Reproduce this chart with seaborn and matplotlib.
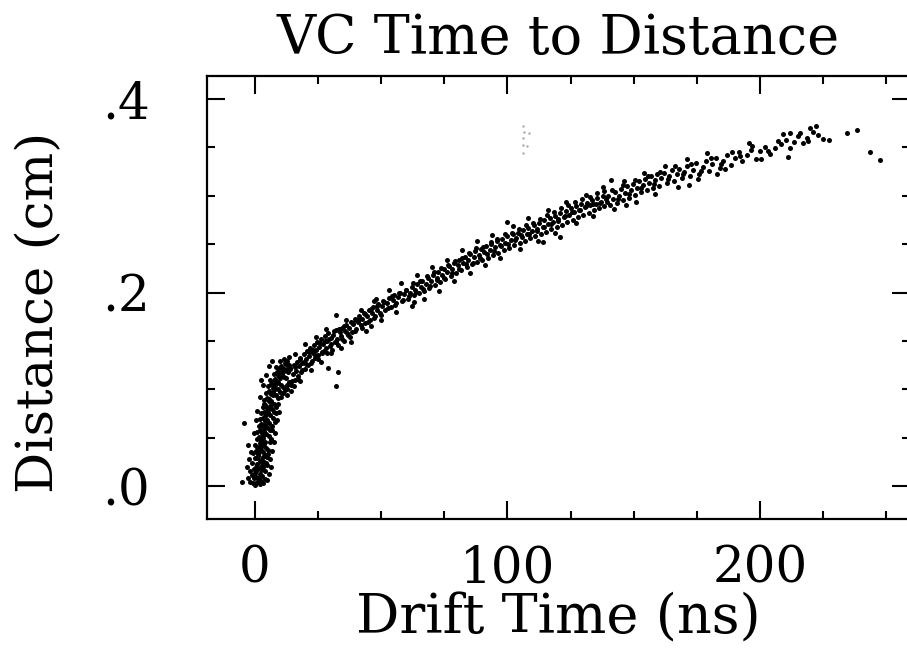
import matplotlib
matplotlib.use("Agg")
import matplotlib.pyplot as plt
import numpy as np
import pandas as pd
import seaborn as sns
from matplotlib.ticker import MultipleLocator

# ---------------- data ----------------
title = "VC Time to Distance"
x_label = "Drift Time (ns)"
y_label = "Distance (cm)"
x_ticks = [0, 100, 200]
x_tick_labels = ["0", "100", "200"]
y_ticks = [0.0, 0.2, 0.4]
y_tick_labels = [".0", ".2", ".4"]

# early region (t < 14 ns)
early_t = [-0.6, 0.2, 1.0, 1.8, 2.5, 3.3, 0.6, 1.5, 2.9, -1.2, 3.8, 0.0, 2.1,
           -1.8, -0.4, 0.5, 1.4, 2.3, 3.1, 4.0, -1.0, 0.9, 1.9, 2.8, 3.6, -2.4, 0.1, 1.2, 2.5, 3.3, 4.3,
           -0.8, 0.4, 1.3, 2.2, 3.0, 3.9, 4.8, 0.0, 1.0, 1.9, 2.7, 3.5, 4.4, 5.2, 0.8, 2.4, 3.2, 4.1, 1.6,
           0.9, 1.9, 2.8, 3.6, 4.5, 5.4, 6.2, 1.4, 2.3, 3.2, 4.1, 5.0, 5.8, 2.0, 3.0, 3.9, 4.8, 5.7, 6.6,
           2.4, 3.4, 4.3, 5.2, 6.1, 7.0, 3.0, 4.0, 4.9, 5.8, 6.7, 7.6, 3.7, 4.6, 5.6, 6.5, 7.4, 8.3,
           4.4, 5.4, 6.4, 7.3, 8.2, 9.1, 5.2, 6.2, 7.2, 8.1, 9.0, 10.0, 6.0, 7.1, 8.1, 9.2, 10.3, 11.2,
           7.5, 8.6, 9.6, 10.6, 11.6, 8.4, 9.5, 10.5, 11.5,
           7.8, 8.5, 9.3, 10.2, 11.0, 12.0, 6.9, 5.9, 4.9, 5.3, 10.1, 11.3, 12.4, 13.5,
           0.5, 1.6, 2.6, 3.5, 4.4, 5.3, 6.2, 7.1, 8.0, 8.9, 9.8, 10.7, 11.6, 12.5, 13.4,
           1.1, 2.0, 3.0, 3.9, 4.7, 5.6, 6.5, 7.4, 8.3, 9.2, 10.1, 11.0, 11.9, 12.8,
           -0.3, 0.7, 1.7, 2.6, 3.6,
           -2.8, -2.0, -3.2, -1.5, -2.6, -0.5, 4.8, 5.6, 6.3, 5.9, 6.8, 7.4, 7.9, 8.8, 9.7,
           0.3, 1.0, 2.0, 3.1, 4.2, 5.5, 6.8, 12.8, 14.2, 15.6]
early_d = [0.003, 0.001, 0.004, 0.002, 0.005, 0.003, 0.009, 0.008, 0.010, 0.011, 0.007, 0.013, 0.012,
           0.016, 0.018, 0.015, 0.019, 0.017, 0.020, 0.015, 0.024, 0.023, 0.026, 0.022, 0.025, 0.028, 0.029, 0.031, 0.027, 0.030, 0.024,
           0.034, 0.036, 0.033, 0.037, 0.035, 0.032, 0.030, 0.042, 0.040, 0.044, 0.041, 0.043, 0.039, 0.037, 0.049, 0.047, 0.050, 0.046, 0.051,
           0.056, 0.058, 0.055, 0.057, 0.054, 0.052, 0.049, 0.062, 0.064, 0.061, 0.063, 0.060, 0.058, 0.069, 0.070, 0.067, 0.068, 0.065, 0.062,
           0.075, 0.077, 0.074, 0.076, 0.073, 0.070, 0.082, 0.084, 0.081, 0.083, 0.080, 0.077, 0.089, 0.091, 0.088, 0.087, 0.085, 0.082,
           0.096, 0.098, 0.095, 0.097, 0.094, 0.091, 0.103, 0.105, 0.101, 0.104, 0.100, 0.097, 0.110, 0.108, 0.111, 0.107, 0.104, 0.102,
           0.116, 0.118, 0.114, 0.117, 0.113, 0.123, 0.121, 0.124, 0.120,
           0.066, 0.075, 0.085, 0.092, 0.096, 0.099, 0.058, 0.045, 0.022, 0.033, 0.129, 0.131, 0.126, 0.133,
           0.020, 0.035, 0.045, 0.060, 0.068, 0.080, 0.088, 0.094, 0.100, 0.106, 0.112, 0.115, 0.119, 0.121, 0.125,
           0.008, 0.050, 0.053, 0.072, 0.078, 0.090, 0.096, 0.101, 0.108, 0.115, 0.118, 0.122, 0.127, 0.129,
           0.008, 0.029, 0.040, 0.063, 0.085,
           0.008, 0.004, 0.020, 0.035, 0.042, 0.055, 0.006, 0.012, 0.020, 0.028, 0.036, 0.046, 0.055, 0.068, 0.077,
           0.068, 0.078, 0.092, 0.104, 0.115, 0.124, 0.129, 0.094, 0.098, 0.103]

# middle region (12 - 60 ns)
mid_t = [12.3, 12.8, 13.1, 13.6, 14.0, 14.4, 14.9, 15.3, 15.7, 16.2, 16.6, 17.0, 17.5, 17.9, 18.4, 18.8,
         19.3, 19.7, 20.2, 20.6, 21.0, 21.5, 21.9, 22.4, 22.8, 23.3, 23.7, 24.2, 24.6, 25.1, 25.5, 26.0,
         26.4, 26.9, 27.3, 27.8, 28.2, 28.7, 29.1, 29.6, 30.0, 30.5, 31.0, 31.5, 32.0, 32.5, 33.0, 33.5,
         34.0, 34.6, 35.1, 35.7, 36.2, 36.8, 37.3, 37.9, 38.4, 39.0, 39.6, 40.1, 40.7, 41.3, 41.9, 42.5,
         43.1, 43.7, 44.3, 45.0, 45.6, 46.2, 46.9, 47.5, 48.2, 48.9, 49.5, 50.2, 50.9, 51.6, 52.3, 53.0,
         53.8, 54.5, 55.2, 56.0, 56.8, 57.6, 58.4, 59.2,
         12.6, 13.9, 14.7, 15.9, 16.9, 17.7, 18.6, 19.5, 20.4, 21.3, 22.1, 23.0, 23.9, 24.8, 25.8, 26.7,
         27.6, 28.5, 29.4, 30.3, 31.2, 32.2, 33.2, 34.3, 35.4, 36.5, 37.6, 38.7, 39.8, 41.0, 42.2, 43.4,
         44.6, 45.8, 47.1, 48.5, 49.8, 51.2, 52.6, 54.1, 55.6, 57.1, 58.7, 59.8,
         16.0, 18.0, 20.0, 22.0, 24.0, 26.0, 28.0, 30.0, 34.0, 36.0, 38.0, 42.0, 44.0, 47.0, 50.0, 53.0,
         56.0, 58.0]
mid_d = [0.112, 0.100, 0.118, 0.108, 0.121, 0.104, 0.116, 0.125, 0.110, 0.119, 0.128, 0.114, 0.124, 0.132, 0.118, 0.127,
         0.136, 0.121, 0.131, 0.140, 0.125, 0.134, 0.143, 0.129, 0.138, 0.146, 0.132, 0.141, 0.149, 0.135, 0.144, 0.152,
         0.137, 0.147, 0.140, 0.155, 0.143, 0.150, 0.158, 0.145, 0.153, 0.141, 0.156, 0.149, 0.161, 0.152, 0.146, 0.159,
         0.155, 0.163, 0.150, 0.160, 0.166, 0.156, 0.163, 0.170, 0.159, 0.167, 0.173, 0.162, 0.170, 0.176, 0.166, 0.173,
         0.179, 0.169, 0.176, 0.182, 0.172, 0.179, 0.185, 0.176, 0.182, 0.188, 0.179, 0.186, 0.191, 0.182, 0.189, 0.194,
         0.185, 0.192, 0.197, 0.189, 0.195, 0.200, 0.191, 0.198,
         0.104, 0.122, 0.109, 0.123, 0.111, 0.131, 0.120, 0.128, 0.126, 0.139, 0.127, 0.141, 0.135, 0.131, 0.148, 0.139,
         0.150, 0.138, 0.152, 0.147, 0.160, 0.149, 0.162, 0.152, 0.165, 0.158, 0.154, 0.168, 0.160, 0.172, 0.163, 0.178,
         0.170, 0.183, 0.174, 0.186, 0.177, 0.190, 0.184, 0.196, 0.187, 0.199, 0.192, 0.203,
         0.136, 0.109, 0.147, 0.120, 0.154, 0.128, 0.162, 0.137, 0.143, 0.172, 0.149, 0.182, 0.160, 0.191, 0.172, 0.203,
         0.180, 0.210]

# region 60 - 140 ns
late_t = [60.0, 60.7, 61.4, 62.1, 62.8, 63.5, 64.2, 64.9, 65.6, 66.3, 67.0, 67.7, 68.4, 69.1, 69.8, 70.5,
          71.2, 71.9, 72.6, 73.3, 74.0, 74.7, 75.4, 76.1, 76.8, 77.5, 78.2, 78.9, 79.6, 80.3, 81.0, 81.7,
          82.4, 83.1, 83.8, 84.5, 85.2, 85.9, 86.6, 87.3, 88.0, 88.7, 89.4, 90.1, 90.8, 91.5, 92.2, 92.9,
          93.6, 94.3, 95.0, 95.7, 96.4, 97.1, 97.8, 98.5, 99.2, 99.9, 100.6, 101.3, 102.0, 102.7, 103.4, 104.1,
          104.8, 105.5, 106.2, 106.9, 107.6, 108.3, 109.0, 109.7, 110.4, 111.1, 111.8, 112.5, 113.2, 113.9, 114.6, 115.3,
          116.0, 116.7, 117.4, 118.1, 118.8, 119.5, 120.2, 120.9, 121.6, 122.3, 123.0, 123.7, 124.4, 125.1, 125.8, 126.5,
          127.2, 127.9, 128.6, 129.3, 130.0, 130.7, 131.4, 132.1, 132.8, 133.5, 134.2, 134.9, 135.6, 136.3, 137.0, 137.7,
          138.4, 139.1,
          61.0, 62.4, 63.9, 65.2, 66.7, 68.0, 69.4, 70.9, 72.2, 73.7, 75.0, 76.4, 77.9, 79.2, 80.7, 82.0,
          83.5, 84.9, 86.2, 87.7, 89.0, 90.5, 91.9, 93.3, 94.7, 96.0, 97.5, 98.9, 100.3, 101.7, 103.1, 104.5,
          105.9, 107.3, 108.7, 110.1, 111.5, 112.9, 114.3, 115.7, 117.1, 118.5, 119.9, 121.3, 122.7, 124.1, 125.5, 126.9,
          128.3, 129.7, 131.1, 132.5, 133.9, 135.3, 136.7, 138.1, 139.5,
          62.0, 64.0, 67.0, 70.0, 73.0, 76.0, 79.0, 82.0, 85.0, 88.0, 91.0, 94.0, 97.0, 102.0, 105.0, 108.0,
          112.0, 116.0, 119.0, 123.0, 127.0, 131.0, 134.0, 138.0]
late_d = [0.203, 0.193, 0.200, 0.206, 0.197, 0.203, 0.209, 0.199, 0.206, 0.212, 0.202, 0.209, 0.215, 0.205, 0.212, 0.218,
          0.208, 0.215, 0.221, 0.211, 0.218, 0.224, 0.214, 0.221, 0.227, 0.217, 0.224, 0.231, 0.220, 0.228, 0.234, 0.223,
          0.231, 0.237, 0.226, 0.234, 0.240, 0.229, 0.237, 0.243, 0.232, 0.239, 0.245, 0.234, 0.242, 0.248, 0.236, 0.244,
          0.250, 0.239, 0.247, 0.253, 0.241, 0.249, 0.255, 0.244, 0.251, 0.258, 0.246, 0.254, 0.260, 0.249, 0.256, 0.262,
          0.251, 0.259, 0.265, 0.253, 0.261, 0.267, 0.256, 0.264, 0.270, 0.258, 0.266, 0.272, 0.261, 0.268, 0.275, 0.263,
          0.271, 0.277, 0.266, 0.273, 0.279, 0.268, 0.276, 0.282, 0.270, 0.278, 0.284, 0.273, 0.280, 0.287, 0.275, 0.283,
          0.289, 0.278, 0.285, 0.291, 0.280, 0.288, 0.293, 0.282, 0.290, 0.296, 0.285, 0.292, 0.298, 0.287, 0.294, 0.300,
          0.289, 0.297,
          0.196, 0.210, 0.201, 0.212, 0.204, 0.217, 0.207, 0.221, 0.213, 0.225, 0.215, 0.228, 0.220, 0.233, 0.224, 0.236,
          0.229, 0.241, 0.231, 0.246, 0.236, 0.247, 0.240, 0.252, 0.243, 0.255, 0.248, 0.260, 0.250, 0.262, 0.254, 0.266,
          0.257, 0.270, 0.260, 0.272, 0.264, 0.276, 0.268, 0.280, 0.271, 0.283, 0.274, 0.287, 0.279, 0.290, 0.283, 0.294,
          0.285, 0.297, 0.289, 0.299, 0.291, 0.303, 0.293, 0.305, 0.294,
          0.186, 0.218, 0.193, 0.226, 0.202, 0.234, 0.212, 0.244, 0.220, 0.253, 0.228, 0.259, 0.236, 0.269, 0.245, 0.277,
          0.253, 0.285, 0.262, 0.294, 0.272, 0.301, 0.279, 0.309]

# tail region (140 - 250 ns)
tail_t = [140.0, 140.8, 141.6, 142.4, 143.2, 144.0, 144.8, 145.6, 146.4, 147.2, 148.0, 148.8, 149.6, 150.4, 151.2, 152.0,
          152.8, 153.6, 154.4, 155.2, 156.0, 156.8, 157.6, 158.4, 159.2, 160.0, 161.0, 162.0, 163.0, 164.0, 165.0, 166.0,
          167.0, 168.0, 169.0, 170.0, 171.2, 172.4, 173.6, 174.8, 176.0, 177.3, 178.6, 179.9, 181.2, 182.5, 184.0, 185.5,
          187.0, 188.5, 190.0, 191.5, 193.0, 194.8, 196.5, 198.3, 200.0, 202.0, 204.0, 206.0, 208.5, 210.5, 212.0, 213.5,
          215.0, 217.0, 218.5, 220.0, 221.0, 222.0, 223.0, 225.0, 227.5, 234.5, 238.5, 243.5, 247.5,
          141.2, 143.6, 145.9, 148.3, 150.7, 153.0, 155.6, 158.0, 160.5, 163.4, 166.4, 169.5, 172.8, 176.5, 180.5, 184.7,
          189.0, 192.2, 197.0, 203.0, 207.0, 216.0, 219.0,
          142.0, 146.0, 151.0, 154.0, 158.5, 162.5, 167.5, 171.0, 175.5, 179.0, 186.0, 195.5, 200.5, 209.0]
tail_d = [0.300, 0.290, 0.297, 0.304, 0.293, 0.300, 0.307, 0.296, 0.303, 0.310, 0.298, 0.306, 0.312, 0.301, 0.308, 0.315,
          0.304, 0.311, 0.317, 0.306, 0.313, 0.320, 0.308, 0.316, 0.322, 0.310, 0.318, 0.324, 0.313, 0.320, 0.327, 0.315,
          0.322, 0.328, 0.318, 0.325, 0.331, 0.320, 0.327, 0.334, 0.323, 0.330, 0.336, 0.326, 0.333, 0.339, 0.329, 0.336,
          0.342, 0.332, 0.339, 0.345, 0.336, 0.342, 0.347, 0.338, 0.346, 0.350, 0.343, 0.349, 0.354, 0.358, 0.349, 0.356,
          0.362, 0.355, 0.360, 0.370, 0.366, 0.372, 0.363, 0.359, 0.358, 0.365, 0.368, 0.345, 0.337,
          0.306, 0.297, 0.311, 0.302, 0.316, 0.308, 0.320, 0.312, 0.325, 0.317, 0.331, 0.322, 0.333, 0.326, 0.339, 0.333,
          0.345, 0.341, 0.351, 0.346, 0.357, 0.365, 0.357,
          0.286, 0.315, 0.294, 0.324, 0.302, 0.331, 0.309, 0.338, 0.317, 0.344, 0.328, 0.355, 0.338, 0.364]

# isolated points
stray_t = [-4.4, -5.0, 2.4, 29.0, 32.0, 33.0, 32.0, 48.0, 46.0, 63.0, 100.0, 114.0, 121.0, 141.0, 147.0,
           172.0, 183.0, 211.0, 212.0]
stray_d = [0.065, 0.004, 0.110, 0.122, 0.103, 0.118, 0.177, 0.193, 0.165, 0.190, 0.273, 0.252, 0.257, 0.316, 0.290,
           0.311, 0.323, 0.340, 0.365]

# faint grey specks
faint_t = [106.0, 106.5, 108.5, 106.0, 106.3, 107.8, 106.0]
faint_d = [0.372, 0.366, 0.365, 0.360, 0.352, 0.351, 0.344]

# ---------------- plot ----------------
sns.set_style("ticks")
plt.rcParams["font.family"] = ["DejaVu Serif", "DejaVu Sans"]
plt.rcParams["text.color"] = "black"
plt.rcParams["axes.labelcolor"] = "black"
plt.rcParams["xtick.color"] = "black"
plt.rcParams["ytick.color"] = "black"

df = pd.DataFrame({
    "t": early_t + mid_t + late_t + tail_t + stray_t,
    "d": early_d + mid_d + late_d + tail_d + stray_d,
})
df_faint = pd.DataFrame({"t": faint_t, "d": faint_d})

fig = plt.figure(figsize=(9.07, 6.6), dpi=100)
ax = fig.add_axes([207 / 907, (660 - 519) / 660, 702.7 / 907, 443 / 660])

sns.scatterplot(data=df, x="t", y="d", ax=ax, s=13, color="black", linewidth=0, legend=False)
sns.scatterplot(data=df_faint, x="t", y="d", ax=ax, s=3, color="#aaaaaa", linewidth=0, legend=False)

ax.set_xlim(-19.0, 259.3)
ax.set_ylim(-0.0341, 0.4238)
ax.set_xticks(x_ticks)
ax.set_xticklabels(x_tick_labels)
ax.xaxis.set_minor_locator(MultipleLocator(25))
ax.set_yticks(y_ticks)
ax.set_yticklabels(y_tick_labels)
ax.yaxis.set_minor_locator(MultipleLocator(0.05))

ax.tick_params(which="both", direction="in", top=True, right=True, width=1.5,
               color="black", labelcolor="black")
ax.tick_params(which="major", length=13)
ax.tick_params(which="minor", length=6)
ax.tick_params(axis="x", which="major", pad=18, labelsize=36)
ax.tick_params(axis="y", which="major", pad=41, labelsize=36)
for sp in ax.spines.values():
    sp.set_linewidth(1.6)
    sp.set_color("black")

ax.set_title(title, fontsize=39, pad=16, color="black")
ax.set_xlabel(x_label, fontsize=39, va="top", color="black")
ax.xaxis.set_label_coords(0.5, -0.165)
ax.set_ylabel(y_label, fontsize=37, color="black")
ax.yaxis.set_label_coords(-0.203, 0.467)

fig.savefig("out.png", dpi=100)
